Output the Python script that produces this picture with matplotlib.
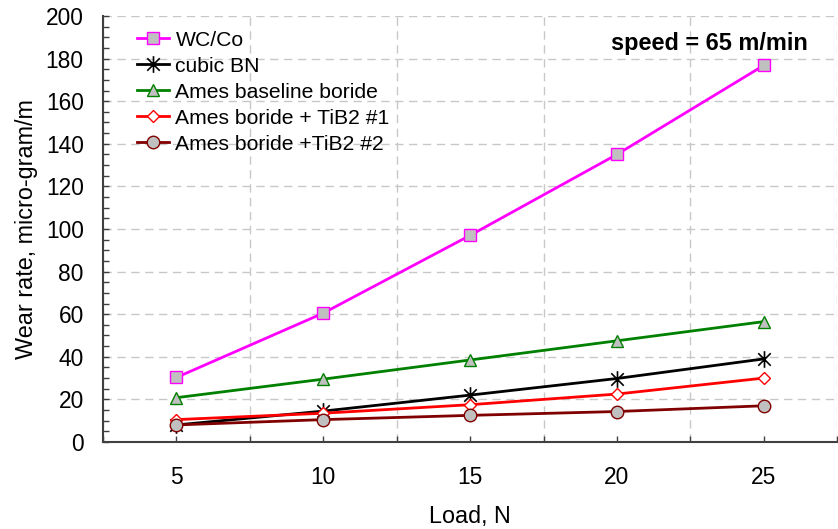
import numpy as np
import matplotlib.pyplot as plt
from matplotlib.path import Path
from matplotlib.ticker import MultipleLocator

plt.rcParams['font.family'] = ['Liberation Sans', 'DejaVu Sans']

load = [5, 10, 15, 20, 25]
wc_co = [30.3, 60.5, 97.0, 135.0, 176.8]
cubic_bn = [8.0, 14.5, 22.0, 29.8, 39.0]
ames_baseline = [20.8, 29.5, 38.5, 47.5, 56.5]
ames_tib2_1 = [10.5, 13.5, 17.5, 22.5, 30.0]
ames_tib2_2 = [8.0, 10.5, 12.5, 14.3, 17.0]

# asterisk: vertical bar plus an X
star = Path([(0, -1), (0, 1), (-0.75, -0.75), (0.75, 0.75), (-0.75, 0.75), (0.75, -0.75)],
            [Path.MOVETO, Path.LINETO] * 3)

series = [
    ("WC/Co", wc_co, dict(color='#ff00ff', marker='s', markersize=8, mfc='#c0c0c0', mec='#ff00ff')),
    ("cubic BN", cubic_bn, dict(color='black', marker=star, markersize=12, mfc='none', mec='black', mew=1.2)),
    ("Ames baseline boride", ames_baseline, dict(color='#008000', marker='^', markersize=9, mfc='#c0c0c0', mec='#008000')),
    ("Ames boride + TiB2 #1", ames_tib2_1, dict(color='#ff0000', marker='D', markersize=6, mfc='white', mec='#ff0000')),
    ("Ames boride +TiB2 #2", ames_tib2_2, dict(color='#800000', marker='o', markersize=9, mfc='#c0c0c0', mec='#800000')),
]

fig = plt.figure(figsize=(8.38, 5.29), dpi=100)
ax = fig.add_axes([0.123, 0.1645, 0.876, 0.8053])

for name, vals, style in series:
    ax.plot(load, vals, label=name, linewidth=2, **style)

ax.set_xlim(2.5, 27.5)
ax.set_ylim(0, 200)
ax.xaxis.set_major_locator(MultipleLocator(5))
ax.xaxis.set_minor_locator(MultipleLocator(5, offset=2.5))
ax.yaxis.set_major_locator(MultipleLocator(20))
ax.yaxis.set_minor_locator(MultipleLocator(5))

ax.xaxis.grid(True, which='minor', linestyle=(0, (6, 4)), color='#c8c8c8', linewidth=1)
ax.yaxis.grid(True, which='major', linestyle=(0, (6, 4)), color='#c8c8c8', linewidth=1)
ax.set_axisbelow(True)

for s in ['top', 'right']:
    ax.spines[s].set_visible(False)
for s in ['left', 'bottom']:
    ax.spines[s].set_color('#404040')
    ax.spines[s].set_linewidth(1.5)

ax.tick_params(which='both', direction='in', length=4.5, width=1, color='#404040')
ax.tick_params(axis='x', which='major', labelsize=16.4, pad=17)
ax.tick_params(axis='y', which='major', labelsize=16.4, pad=14)

ax.set_xlabel("Load, N", fontsize=16.8)
ax.set_ylabel("Wear rate, micro-gram/m", fontsize=16.8)
ax.xaxis.set_label_coords(0.5, -0.147)
ax.yaxis.set_label_coords(-0.088, 0.5)

ax.text(0.96, 0.935, "speed = 65 m/min", transform=ax.transAxes, ha='right', va='center',
        fontsize=16.9, fontweight='bold')

ax.legend(loc='upper left', bbox_to_anchor=(0.046, 0.965), frameon=False, fontsize=15.2,
          borderaxespad=0, borderpad=0, handlelength=1.5, handletextpad=0.33, labelspacing=0.33)

fig.savefig('out.png', dpi=100)
